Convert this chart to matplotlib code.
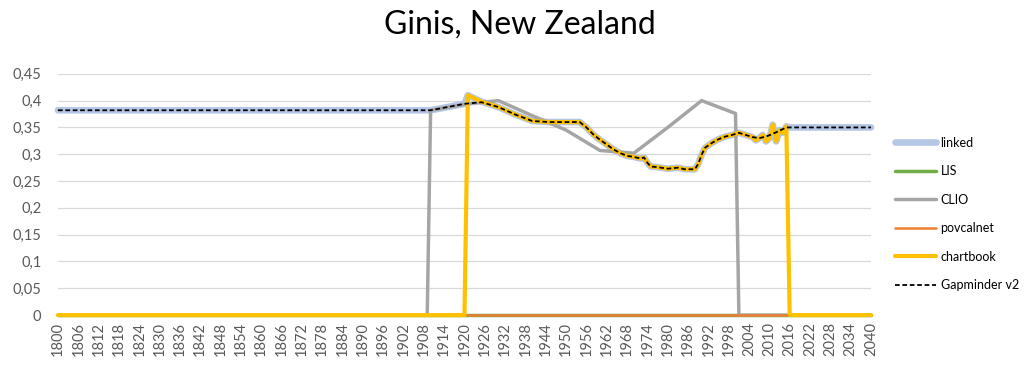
import matplotlib
matplotlib.use('Agg')
import matplotlib.pyplot as plt
from matplotlib.ticker import FuncFormatter, MultipleLocator

plt.rcParams['font.family'] = ['Lato', 'DejaVu Sans']

# chartbook core (years with data)
cb_years = [1921, 1925, 1930, 1935, 1940, 1945, 1950, 1954, 1956, 1958, 1960, 1962,
            1964, 1966, 1968, 1970, 1972, 1973, 1974, 1975, 1977, 1980, 1983, 1985,
            1988, 1989, 1990, 1991, 1993, 1995, 1997, 1999, 2001, 2003, 2005, 2006,
            2007, 2008, 2009, 2010, 2011, 2012, 2013, 2014, 2015]
cb_values = [0.410, 0.398, 0.388, 0.374, 0.362, 0.360, 0.360, 0.360, 0.350, 0.337, 0.327, 0.318,
             0.309, 0.302, 0.297, 0.295, 0.292, 0.294, 0.284, 0.277, 0.276, 0.273, 0.275, 0.272,
             0.272, 0.282, 0.299, 0.312, 0.321, 0.328, 0.333, 0.336, 0.340, 0.336, 0.332, 0.326,
             0.330, 0.336, 0.324, 0.330, 0.355, 0.324, 0.345, 0.340, 0.352]

clio_years = [1800, 1909, 1910, 1920, 1930, 1940, 1950, 1960, 1970, 1980, 1990, 2000, 2001, 2040]
clio_values = [0, 0, 0.382, 0.393, 0.400, 0.372, 0.345, 0.307, 0.302, 0.350, 0.400, 0.376, 0, 0]

lis_years = [1800, 2040]
lis_values = [0, 0]
pov_years = [1800, 2040]
pov_values = [0, 0]

linked_head_years = [1800, 1910, 1920]
linked_head_values = [0.382, 0.382, 0.394]
linked_tail_years = [2016, 2040]
linked_tail_values = [0.350, 0.350]

gm_years = [1800, 1910, 1920, 1925, 1930, 1935, 1940, 1945, 1950, 1954, 1956, 1958, 1960,
            1962, 1964, 1966, 1968, 1970, 1972, 1973, 1974, 1975, 1977, 1980, 1983, 1985,
            1988, 1989, 1990, 1991, 1993, 1995, 1997, 1999, 2001, 2003, 2005, 2007, 2009,
            2011, 2013, 2015, 2016, 2040]
gm_values = [0.382, 0.382, 0.394, 0.397, 0.388, 0.374, 0.362, 0.360, 0.360, 0.360, 0.350, 0.337,
             0.327, 0.318, 0.309, 0.302, 0.297, 0.295, 0.292, 0.294, 0.284, 0.277, 0.276, 0.273,
             0.275, 0.272, 0.272, 0.282, 0.299, 0.312, 0.321, 0.328, 0.333, 0.336, 0.340, 0.336,
             0.332, 0.330, 0.333, 0.338, 0.344, 0.350, 0.350, 0.350]

linked_years = linked_head_years + cb_years + linked_tail_years
linked_values = linked_head_values + cb_values + linked_tail_values
chart_years = [1800, 1920] + cb_years + [2016, 2040]
chart_values = [0, 0] + cb_values + [0, 0]

fig = plt.figure(figsize=(10.24, 3.69), dpi=100)
ax = fig.add_axes([0.0566, 0.146, 0.794, 0.654])

kw = dict(solid_capstyle='round', solid_joinstyle='round', clip_on=False)
ax.plot(linked_years, linked_values, color='#B4C7E7', lw=4.8, label='linked', **kw)
ax.plot(lis_years, lis_values, color='#70AD47', lw=2.5, label='LIS', **kw)
ax.plot(clio_years, clio_values, color='#A5A5A5', lw=2.5, label='CLIO', **kw)
ax.plot(pov_years, pov_values, color='#ED7D31', lw=1.8, label='povcalnet', **kw)
ax.plot(chart_years, chart_values, color='#FFC000', lw=3.0, label='chartbook', **kw)
ax.plot(gm_years, gm_values, color='black', lw=1.3, ls=(0, (2.6, 1.5)), label='Gapminder v2', clip_on=False)

ax.set_xlim(1800, 2040)
ax.set_ylim(0, 0.45)
ax.xaxis.set_major_locator(MultipleLocator(6))
ax.yaxis.set_major_locator(MultipleLocator(0.05))
ax.yaxis.set_major_formatter(FuncFormatter(lambda v, p: '0' if abs(v) < 1e-9 else f'{v:.2f}'.rstrip('0').replace('.', ',')))
ax.grid(axis='y', color='#D9D9D9', lw=0.9)
ax.set_axisbelow(True)
for s in ax.spines.values():
    s.set_visible(False)
ax.tick_params(axis='both', length=0, colors='#595959', labelsize=10.5)
ax.tick_params(axis='x', rotation=90, pad=5)
ax.tick_params(axis='y', pad=12)

fig.suptitle('Ginis, New Zealand', x=0.508, y=0.975, fontsize=23, va='top')

fig.legend(loc='upper left', bbox_to_anchor=(0.874, 0.630), frameon=False,
           fontsize=9, labelspacing=1.32, handlelength=3.3, handletextpad=0.35,
           borderpad=0, borderaxespad=0)

fig.savefig('out.png', dpi=100)
